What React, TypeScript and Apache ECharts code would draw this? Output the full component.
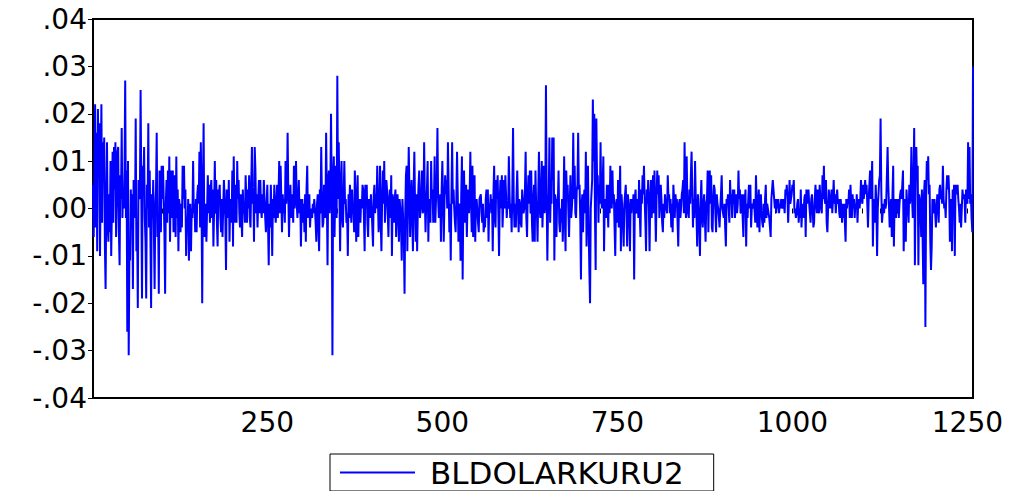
import { useEffect, useRef } from "react";
import * as echarts from "echarts";

const part01 = [5,-6,8,22,-4,16,-9,21,10,18,-10,6,22,-3,14,6,15,-8,-17,2,14,-4,-7,3,-5,10,-10,0,12,-3,13,4,14,-6,2,12,13,-5,-12,7,2,17,-2,4,0,8,27,-2,8,-26,10,-31,-10,-11,4,-4,3,-17,6,0,-2,19,-9,-3,-21,6,2,3,25,3,-19,9,4,13,-2,-7,-19,5,0,18,-4,8,-6,-21,3,-2,6,-5,-17,0,4,16,-6,-1,-18,8,3,-5,9,2];
const part02 = [9,2,-5,-18,1,6,-3,8,-1,11,-7,3,8,-2,8,-5,1,7,-6,11,-2,4,-9,2,0,-5,1,-4,9,2,9,0,4,-10,-2,-4,2,-11,-3,1,-9,0,-2,10,-1,1,-5,2,-5,3,5,1,12,-4,14,2,-20,4,18,-6,-3,1,-7,0,7,-1,5,-3,4,6,-2,4,-8,0,10,-1,6,-3,-8,4,3,5,-2,-5,2,-6,0,6,2,-2,-13,4,1,-2,6,-7,2,-1,-3,8,-8,11,0,-3,5];
const part03 = [-3,10,2,6,-1,-4,3,-2,-6,4,-1,1,-3,7,2,-3,4,0,7,-2,-4,5,13,1,4,-7,13,8,-1,3,-4,2,6,-1,6,0,-2,3,-1,6,2,-2,-5,1,5,-3,-12,1,-4,5,-1,-10,2,-2,5,0,-3,1,5,-2,3,10,-1,9,2,-5,3,-1,2,-3,10,1,4,16,3,-6,1,5,-2,3,1,-3,9,0,4,10,1,-2,2,6,-1,2,-8,0,2,-3,1,-5,3,-7,4,9,-2,1,3,-4,-1];
const part04 = [0,-2,1,-1,2,0,-3,-7,1,3,-4,-9,4,-1,13,2,-4,-3,5,1,-2,16,3,-12,6,8,-1,4,20,3,-31,6,11,-6,4,9,-2,28,2,14,3,-9,5,10,-2,-4,2,10,1,2,-3,-1,-10,3,-2,5,1,-3,4,-1,0,-5,8,2,-7,1,7,-6,2,1,-3,2,0,5,4,-2,-9,5,1,5,-3,-6,2,1,-2,3,0,-4,-8,3,5,-1,3,0,9,2,-5,-2,9,-3,-9,2,8,1,10,-3,-3];
const part05 = [6,4,-1,-6,2,4,-2,7,-10,3,1,-3,2,4,-6,1,3,-2,-7,2,0,-4,-11,2,2,-6,-18,-1,7,9,-9,2,13,4,-6,1,6,-2,-9,4,12,1,-7,3,-9,0,5,8,-2,0,3,8,-1,0,14,2,-5,1,4,10,-7,2,1,-3,10,2,4,-3,1,11,-3,2,5,17,2,-2,-2,3,-7,4,10,2,-7,1,7,3,6,0,14,4,-5,1,-11,3,14,1,4,0,-3,-5,2,12,3,-7,1];
const part06 = [0,-11,3,11,-15,2,8,-3,4,5,-6,1,4,-1,3,12,1,-5,9,-6,2,7,-7,1,2,2,-3,-5,2,2,3,-1,-3,1,-5,-3,-4,2,4,-2,4,-7,1,0,3,-1,2,-9,3,9,-2,-4,6,2,7,-1,-10,2,6,0,7,-4,1,6,0,7,3,-2,1,0,11,3,-2,1,-5,4,17,2,-4,1,-4,3,8,1,-5,2,1,-3,-4,4,1,-1,0,4,12,-2,-6,3,7,1,8,-1,8,-3,-7,2,5];
const part07 = [-7,8,1,0,-7,3,12,0,-2,4,10,-4,2,9,-1,1,26,3,-11,0,3,15,-3,4,1,15,6,15,-11,3,2,-6,2,1,8,-3,-5,0,-3,2,-7,0,11,-2,-9,8,2,5,5,-6,1,7,-2,0,3,16,2,9,-1,-2,4,5,16,4,5,-2,-15,1,3,-5,2,4,-1,12,-8,2,9,-4,-13,-20,0,0,6,23,10,20,-1,-13,19,6,7,-3,5,1,14,2,0,5,11,-9,2,0,-2,5,1,-4];
const part08 = [5,-1,9,2,0,8,1,3,-4,-10,1,2,-3,6,-4,2,9,-9,3,0,-3,-8,1,3,5,-1,-8,3,1,-2,-9,2,-1,2,0,3,-15,2,4,-1,0,2,-2,6,-1,-6,4,1,7,3,9,2,-3,-9,4,1,6,0,-9,2,6,-2,3,7,-1,8,1,-7,2,8,3,7,-2,1,5,2,-3,-5,1,-2,3,1,0,-1,7,2,3,-1,2,-4,1,-5,5,2,-2,3,1,2,-3,-8,1,2,-2,0,3,4];
const part09 = [6,-1,14,3,-2,11,1,-1,-2,4,1,7,12,4,-4,2,-2,10,2,-1,-8,3,0,-4,-10,2,6,-2,-4,1,3,-2,-7,1,2,8,-5,3,8,1,7,-4,-5,2,5,4,-1,-5,3,1,0,-2,-4,0,3,7,0,-1,-2,1,-4,-8,2,1,3,0,-3,6,1,3,-2,4,1,4,-2,1,3,-1,1,8,2,4,-1,1,3,-2,-6,3,1,4,-8,1,-2,2,5,0,5,-4,0,1,0,2,2,-3,7,1];
const part10 = [-4,1,4,-5,1,3,-1,-3,-4,1,-3,2,5,-2,1,0,-1,-2,-4,-6,2,4,6,6,2,0,2,-1,2,0,2,-1,1,0,2,1,0,2,1,-1,4,3,5,2,-3,-3,6,1,2,3,5,4,6,-1,0,-2,-1,1,2,-3,0,-2,4,-4,0,1,-2,2,3,-6,4,1,3,4,1,1,-3,2,3,0,-4,-3,2,5,1,-1,4,0,-1,5,2,0,-1,7,2,9,2,1,6,-3,-5,0,4,2,0,0];
const part11 = [4,-1,2,6,1,3,-1,2,4,1,2,-1,-2,2,0,-3,1,-2,1,1,-7,2,0,2,1,4,-2,5,1,-2,3,0,2,-2,1,0,3,-3,1,2,0,2,6,2,1,5,2,4,6,3,5,1,-4,2,5,8,2,5,10,-8,1,2,-3,5,1,-10,0,3,6,7,19,4,-3,-3,1,-1,2,0,1,1,13,5,5,-4,0,2,-6,3,9,-8,2,1,-2,2,1,2,-2,1,3,4,2,5,8,-9,1,2];
const part12 = [-7,4,1,0,-3,5,1,4,13,2,-2,6,17,-12,4,13,6,9,-12,3,2,0,-6,4,4,-16,3,6,-25,2,10,6,11,3,5,-7,-13,-8,2,-1,0,2,-1,-4,0,3,2,-3,4,5,2,3,1,9,2,0,1,-2,4,7,4,7,3,-7,1,2,-9,4,1,5,-10,5,3,3,5,2,0,-3,1,-4,0,4,2,3,2,-3,4,2,1,14,2,13,1,3,-2,-5,30];

const seriesName = "BLDOLARKURU2";
const UNIT = 0.001;
const LABEL_STEP = 250;
const TICK_STEP = 25;
const values = [part01, part02, part03, part04, part05, part06, part07, part08, part09, part10, part11, part12]
  .flat()
  .map((v) => +(v * UNIT).toFixed(4));
const categories = values.map((_, i) => String(i + 1));

const FONT = "'DejaVu Sans', sans-serif";

export default function App() {
  const ref = useRef<HTMLDivElement>(null);
  useEffect(() => {
    const chart = echarts.init(ref.current!, null, { renderer: "svg" });
    chart.setOption({
      animation: false,
      backgroundColor: "#ffffff",
      grid: {
        left: 93,
        top: 19,
        right: 38,
        bottom: 93,
        show: true,
        borderColor: "#000",
        borderWidth: 2,
        backgroundColor: "transparent",
      },
      legend: {
        data: [{ name: seriesName, icon: "rect" }],
        left: 330,
        top: 454,
        itemWidth: 75,
        itemHeight: 2,
        borderColor: "#000",
        borderWidth: 1,
        padding: [3, 30, 3, 10],
        textStyle: {
          fontFamily: FONT,
          fontSize: 31,
          lineHeight: 30,
          color: "#000",
          padding: [0, 0, 0, 10],
        },
      },
      xAxis: {
        type: "category",
        data: categories,
        boundaryGap: false,
        axisLine: { show: false },
        axisTick: {
          show: true,
          interval: (i: number) => (i + 1) % TICK_STEP === 0,
          length: 5,
          lineStyle: { color: "#000", width: 1 },
        },
        axisLabel: {
          interval: (i: number) => (i + 1) % LABEL_STEP === 0,
          formatter: (v: string) => (Number(v) % LABEL_STEP === 0 ? v : ""),
          color: "#000",
          fontFamily: FONT,
          fontSize: 28,
          margin: 10,
        },
        splitLine: { show: false },
      },
      yAxis: {
        type: "value",
        min: -0.04,
        max: 0.04,
        interval: 0.01,
        axisLine: { show: false },
        axisTick: { show: true, length: 5, lineStyle: { color: "#000", width: 1 } },
        axisLabel: {
          color: "#000",
          fontFamily: FONT,
          fontSize: 28,
          margin: 6,
          formatter: (v: number) => v.toFixed(2).replace(/^(-?)0\./, "$1."),
        },
        splitLine: { show: false },
      },
      series: [
        {
          name: seriesName,
          type: "line",
          data: values,
          symbol: "none",
          showSymbol: false,
          color: "#0000ff",
          lineStyle: { color: "#0000ff", width: 2 },
        },
      ],
    });
    return () => chart.dispose();
  }, []);
  return (
    <div
      ref={ref}
      style={{ position: "absolute", left: 0, top: 0, width: 1011, height: 491, background: "#fff" }}
    />
  );
}
